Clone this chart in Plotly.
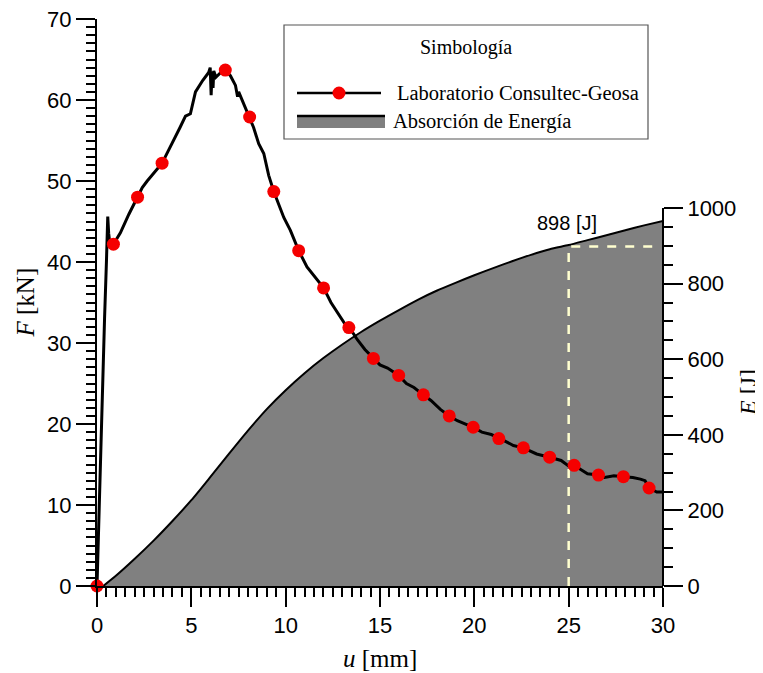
import plotly.graph_objects as go

# ---------------- data ----------------
u_F = [0, 0.1, 0.25, 0.4, 0.5, 0.57, 0.62, 0.68, 0.87, 1.24, 1.69, 2.15, 2.4, 2.66, 3.0, 3.19,
       3.45, 3.75, 4.07, 4.4, 4.69, 4.95, 5.22, 5.6, 5.92, 6.0, 6.05, 6.1, 6.15, 6.19, 6.3,
       6.45, 6.6, 6.8, 7.07, 7.34, 7.45, 7.51, 7.8, 8.09, 8.3, 8.57, 8.84, 9.1, 9.37, 9.65,
       9.9, 10.25, 10.69, 11.13, 11.4, 11.66, 12.01, 12.4, 12.8, 13.1, 13.39, 13.8, 14.2,
       14.65, 15.0, 15.4, 15.99, 16.4, 16.8, 17.3, 17.7, 18.2, 18.67, 19.1, 19.5, 19.94,
       20.4, 20.9, 21.37, 22.07, 22.6, 23.3, 23.99, 24.6, 25.06, 25.29, 26.0, 26.58, 26.9,
       27.4, 27.9, 28.4, 28.8, 29.05, 29.26, 29.67, 30.0]
F_kN = [0, 9, 21, 33, 40, 45.6, 43.5, 42.3, 42.2, 43.6, 45.9, 48.0, 49.2, 50.0, 50.9, 51.5,
        52.2, 53.6, 55.0, 56.6, 58.0, 58.3, 61.0, 62.4, 63.4, 64.0, 60.6, 63.5, 61.5, 63.6, 62.8,
        63.2, 63.5, 63.7, 63.0, 61.8, 60.4, 61.0, 59.4, 57.9, 56.6, 54.6, 53.4, 50.7, 48.7, 47.0,
        45.5, 43.9, 41.4, 39.4, 38.6, 37.9, 36.8, 35.0, 33.6, 32.5, 31.9, 30.4, 29.2,
        28.1, 27.3, 26.9, 26.0, 25.0, 24.5, 23.6, 22.9, 21.8, 21.0, 20.4, 20.0, 19.6,
        19.0, 18.7, 18.2, 17.35, 17.06, 16.3, 15.9, 15.5, 14.7, 14.9, 13.85, 13.7, 13.4,
        13.6, 13.5, 13.4, 13.2, 13.0, 12.1, 11.6, 11.6]

u_mark = [0, 0.87, 2.15, 3.45, 6.8, 8.09, 9.37, 10.69, 12.01, 13.35, 14.65, 15.99, 17.3,
          18.67, 19.94, 21.3, 22.6, 23.99, 25.29, 26.58, 27.9, 29.26]
F_mark = [0, 42.2, 48.0, 52.2, 63.7, 57.9, 48.7, 41.4, 36.8, 31.9, 28.1, 26.0, 23.6,
          21.0, 19.6, 18.2, 17.06, 15.9, 14.9, 13.7, 13.5, 12.1]

u_E = [0.33, 1, 2, 3, 4, 5, 6, 7, 8, 9, 10, 11, 12, 13, 14, 15, 16, 17, 18, 19, 20,
       21, 22, 23, 24, 25, 26, 27, 28, 29, 30]
E_J = [0, 27, 72, 120, 172, 227, 288, 350, 411, 468, 518, 563, 603, 639, 672, 702, 730,
       757, 781, 802, 822, 841, 859, 876, 891, 902, 915, 928, 941, 954, 966]

u_ref = 25
E_ref = 898
ref_label = "898 [J]"

x_ticks = [0, 5, 10, 15, 20, 25, 30]
F_ticks = [0, 10, 20, 30, 40, 50, 60, 70]
E_ticks = [0, 200, 400, 600, 800, 1000]
E_minor = [v for v in range(50, 1000, 50) if v % 200 != 0]

legend_title = "Simbología"
legend_names = ["Laboratorio Consultec-Geosa", "Absorción de Energía"]

# ---------------- geometry helpers ----------------
OFF = 8  # page offset of the plot div
W, H = 755, 665
L, R, T, B = 89, 100, 11, 87
PW, PH = W - L - R, H - T - B


def px(xs):
    return (xs - OFF - L) / PW


def py(ys):
    return (H - B - (ys - OFF)) / PH


SANS = "Liberation Sans, Arial, sans-serif"
SERIF = "Liberation Serif, Times New Roman, serif"

fig = go.Figure()

# energy area (primary y axis, right side)
fig.add_trace(go.Scatter(
    x=u_E, y=E_J, mode="lines", yaxis="y",
    line=dict(color="black", width=2, shape="spline", smoothing=0.6),
    fill="tozeroy", fillcolor="#808080", showlegend=False, hoverinfo="skip"))

# dashed reference lines
fig.add_trace(go.Scatter(
    x=[u_ref, u_ref, x_ticks[-1] - 0.3], y=[0, E_ref, E_ref], mode="lines", yaxis="y",
    line=dict(color="#FFFFD0", width=2.5, dash="dash"), showlegend=False, hoverinfo="skip"))

# force curve (overlaying axis, left side)
fig.add_trace(go.Scatter(
    x=u_F, y=F_kN, mode="lines", yaxis="y2",
    line=dict(color="black", width=3), showlegend=False))
fig.add_trace(go.Scatter(
    x=u_mark, y=F_mark, mode="markers", yaxis="y2", cliponaxis=False,
    marker=dict(color="#F50000", size=13, line=dict(width=0)), showlegend=False))

tickfont = dict(family=SANS, size=22, color="black")

fig.update_layout(
    width=W, height=H,
    margin=dict(l=L, r=R, t=T, b=B, autoexpand=False),
    paper_bgcolor="white", plot_bgcolor="white",
    showlegend=False,
    xaxis=dict(range=[0, 30], tick0=0, dtick=5, ticks="outside", ticklen=19, tickwidth=2,
               tickcolor="black", showline=True, linecolor="black", linewidth=2,
               showgrid=False, zeroline=False, tickfont=tickfont, anchor="y",
               ticklabeloverflow="allow",
               minor=dict(dtick=0.5, tick0=0, ticks="outside", ticklen=9, tickwidth=1.5,
                          tickcolor="black", showgrid=False)),
    yaxis=dict(range=[0, 1500], side="right", tickmode="array", tickvals=E_ticks,
               ticks="outside", ticklen=19, tickwidth=2, tickcolor="black",
               showline=False, showgrid=False, zeroline=False, tickfont=tickfont,
               ticklabeloverflow="allow",
               minor=dict(tickmode="array", tickvals=E_minor, ticks="outside", ticklen=9,
                          tickwidth=1.5, tickcolor="black", showgrid=False)),
    yaxis2=dict(range=[0, 70], overlaying="y", side="left", anchor="x", tick0=0, dtick=10,
                ticks="outside", ticklen=19, tickwidth=2, tickcolor="black",
                showline=True, linecolor="black", linewidth=2, showgrid=False,
                zeroline=False, tickfont=tickfont, ticklabeloverflow="allow",
                minor=dict(dtick=1, tick0=0, ticks="outside", ticklen=9, tickwidth=1.5,
                           tickcolor="black", showgrid=False)),
)

shapes = [
    # right axis line, only over 0..1000
    dict(type="line", xref="paper", x0=1, x1=1, yref="y", y0=E_ticks[0], y1=E_ticks[-1],
         line=dict(color="black", width=2), layer="above"),
    # legend box
    dict(type="rect", xref="paper", yref="paper", x0=px(284), x1=px(648), y0=py(25), y1=py(139),
         line=dict(color="#555555", width=1.2), fillcolor="white", layer="above"),
    # legend item 1 line
    dict(type="line", xref="paper", yref="paper", x0=px(297), x1=px(381), y0=py(93), y1=py(93),
         line=dict(color="black", width=2.5), layer="above"),
    # legend item 1 marker
    dict(type="circle", xref="paper", yref="paper", xsizemode="pixel", ysizemode="pixel",
         xanchor=px(339), yanchor=py(93), x0=-6.5, x1=6.5, y0=-6.5, y1=6.5,
         fillcolor="#F50000", line=dict(width=0), layer="above"),
    # legend item 2 grey box
    dict(type="rect", xref="paper", yref="paper", x0=px(297), x1=px(385), y0=py(128), y1=py(117),
         fillcolor="#808080", line=dict(width=0), layer="above"),
    dict(type="line", xref="paper", yref="paper", x0=px(297), x1=px(385), y0=py(116), y1=py(116),
         line=dict(color="black", width=2.5), layer="above"),
]
fig.update_layout(shapes=shapes)

annotations = [
    dict(text=legend_title, xref="paper", yref="paper", x=px(466), y=py(47),
         xanchor="center", yanchor="middle", showarrow=False,
         font=dict(family=SERIF, size=20, color="black")),
    dict(text=legend_names[0], xref="paper", yref="paper", x=px(395), y=py(93),
         xanchor="left", yanchor="middle", showarrow=False,
         font=dict(family=SERIF, size=20.5, color="black")),
    dict(text=legend_names[1], xref="paper", yref="paper", x=px(391), y=py(121),
         xanchor="left", yanchor="middle", showarrow=False,
         font=dict(family=SERIF, size=20.5, color="black")),
    dict(text=ref_label, xref="x", yref="y", x=24.9, y=960, xanchor="center", yanchor="middle",
         showarrow=False, font=dict(family=SANS, size=20, color="black")),
    dict(text="<i>u</i> [mm]", xref="paper", yref="paper", x=0.5, y=py(658),
         xanchor="center", yanchor="middle", showarrow=False,
         font=dict(family=SERIF, size=25, color="black")),
    dict(text="<i>F</i> [kN]", xref="paper", yref="paper", x=px(25), y=0.5,
         xanchor="center", yanchor="middle", showarrow=False, textangle=-90,
         font=dict(family=SERIF, size=25, color="black")),
    dict(text="<i>E</i> [J]", xref="paper", yref="paper", x=px(748), y=py(393),
         xanchor="center", yanchor="middle", showarrow=False, textangle=-90,
         font=dict(family=SERIF, size=24, color="black")),
]
fig.update_layout(annotations=annotations)

fig.write_html("out.html")
